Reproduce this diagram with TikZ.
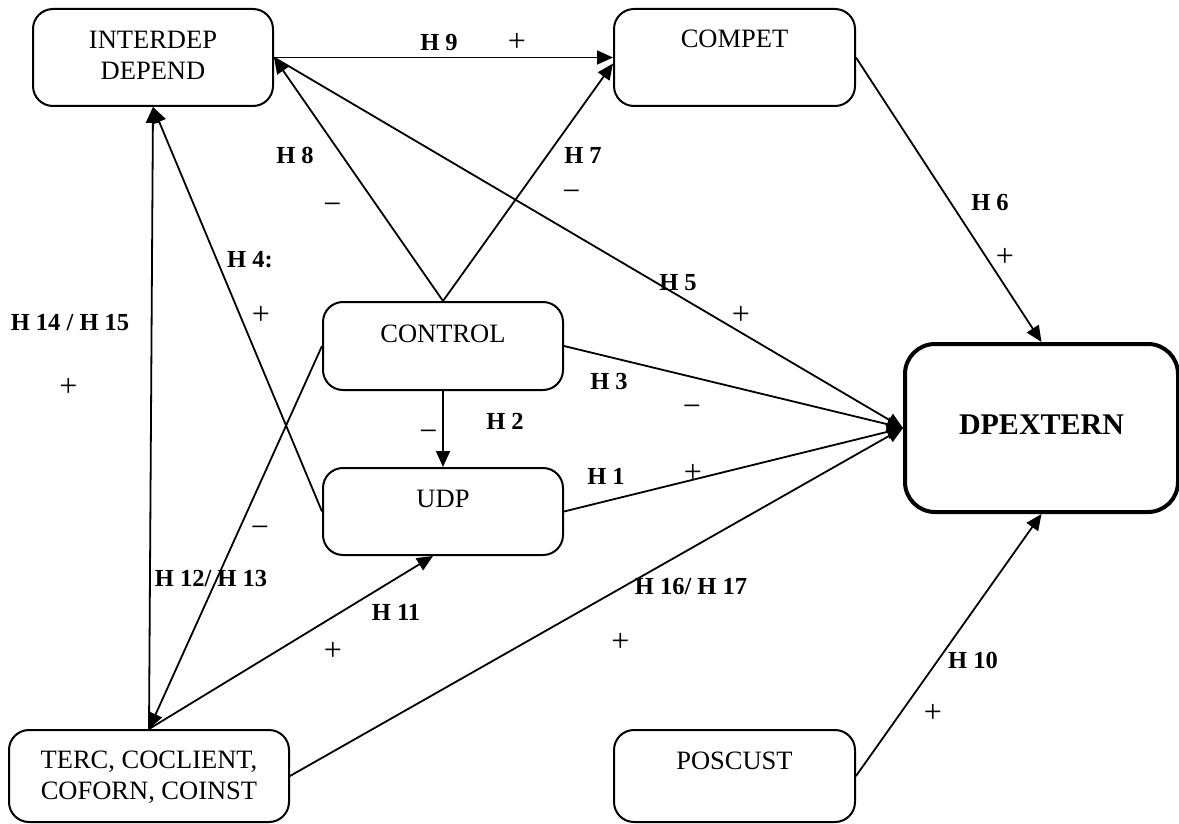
\documentclass[tikz,border=0pt]{standalone}
\usepackage{fontspec}
\setmainfont{Liberation Serif}
\usetikzlibrary{arrows.meta}
\begin{document}
\begin{tikzpicture}[x=1pt,y=-1pt,
  box/.style={draw,rounded corners=20pt,line width=2pt,inner sep=0pt},
  mainbox/.style={draw,rounded corners=30pt,line width=4pt,inner sep=0pt},
  boxtext/.style={font=\fontsize{26.5}{31}\selectfont,align=center,inner sep=0pt},
  hyp/.style={font=\bfseries\fontsize{24.5}{28}\selectfont,inner sep=0pt},
  sign/.style={font=\fontsize{32}{34}\selectfont,inner sep=0pt},
  link/.style={line width=1.8pt,-{Triangle[length=16pt,width=14pt]}}]
\useasboundingbox (0,0) rectangle (1179,824);

% constructs
\node[box, minimum width=240pt, minimum height=97pt] (inter) at (153,57.5) {};
\node[box, minimum width=241pt, minimum height=97pt] (compet) at (734.5,57.5) {};
\node[box, minimum width=240pt, minimum height=88pt] (control) at (443,346) {};
\node[box, minimum width=240pt, minimum height=87pt] (udp) at (443,511.5) {};
\node[box, minimum width=280pt, minimum height=92pt] (terc) at (149,776) {};
\node[box, minimum width=241pt, minimum height=92pt] (poscust) at (734.5,776) {};
\node[mainbox, minimum width=273pt, minimum height=168pt] (dpext) at (1041.5,428) {};

% construct names
\node[boxtext] (interT) at (153,55) {INTERDEP\\DEPEND};
\node[boxtext] (competT) at (734.5,39) {COMPET};
\node[boxtext] (controlT) at (443,334) {CONTROL};
\node[boxtext] (udpT) at (443,499) {UDP};
\node[boxtext] (tercT) at (149,777) {TERC, COCLIENT,\\COFORN, COINST};
\node[boxtext] (poscustT) at (734.5,761) {POSCUST};
\node[font=\bfseries\fontsize{30}{34}\selectfont, inner sep=0pt] (dpextT) at (1041.5,425) {DPEXTERN};

% hypothesised paths
\draw[link] (inter.east) -- (compet.west);
\draw[link] (control.north) -- (inter.east);
\draw[link] (control.north) -- ([yshift=-6pt]compet.west);
\draw[link] (inter.east) -- (dpext.west);
\draw[link] (control.east) -- (dpext.west);
\draw[link] (udp.east) -- (dpext.west);
\draw[link] (terc.east) -- (dpext.west);
\draw[link] (poscust.east) -- (dpext.south);
\draw[link] (compet.east) -- (dpext.north);
\draw[link] (control.south) -- (udp.north);
\draw[link] (udp.west) -- (inter.south);
\draw[link] (terc.north) -- (inter.south);
\draw[link] (control.west) -- (terc.north);
\draw[link] (terc.north) -- ([xshift=-10pt]udp.south);

% hypothesis labels
\node[hyp] (h9) at (439,43) {H 9};
\node[hyp] (h8) at (295,155) {H 8};
\node[hyp] (h7) at (583,155) {H 7};
\node[hyp] (h6) at (990,203) {H 6};
\node[hyp] (h5) at (678,283) {H 5};
\node[hyp] (h4) at (250,260) {H 4:};
\node[hyp] (h1415) at (70,323) {H 14 / H 15};
\node[hyp] (h3) at (609,382) {H 3};
\node[hyp] (h2) at (505,421) {H 2};
\node[hyp] (h1) at (606,476) {H 1};
\node[hyp] (h1213) at (211,579) {H 12/ H 13};
\node[hyp] (h11) at (396,612) {H 11};
\node[hyp] (h1617) at (691,587) {H 16/ H 17};
\node[hyp] (h10) at (973,660) {H 10};

% expected signs
\node[sign] (s9) at (517,42) {+};
\node[sign] (s8) at (332.5,209) {−};
\node[sign] (s7) at (571.5,196) {−};
\node[sign] (s6) at (1005,257) {+};
\node[sign] (s5) at (741,315) {+};
\node[sign] (s4) at (261,315) {+};
\node[sign] (s1415) at (68.5,387) {+};
\node[sign] (s3) at (692,411) {−};
\node[sign] (s2) at (428.5,436) {−};
\node[sign] (s1) at (693,473) {+};
\node[sign] (s1213) at (260,532) {−};
\node[sign] (s11) at (333,651.5) {+};
\node[sign] (s1617) at (620.5,642) {+};
\node[sign] (s10) at (933,713) {+};
\end{tikzpicture}
\end{document}
